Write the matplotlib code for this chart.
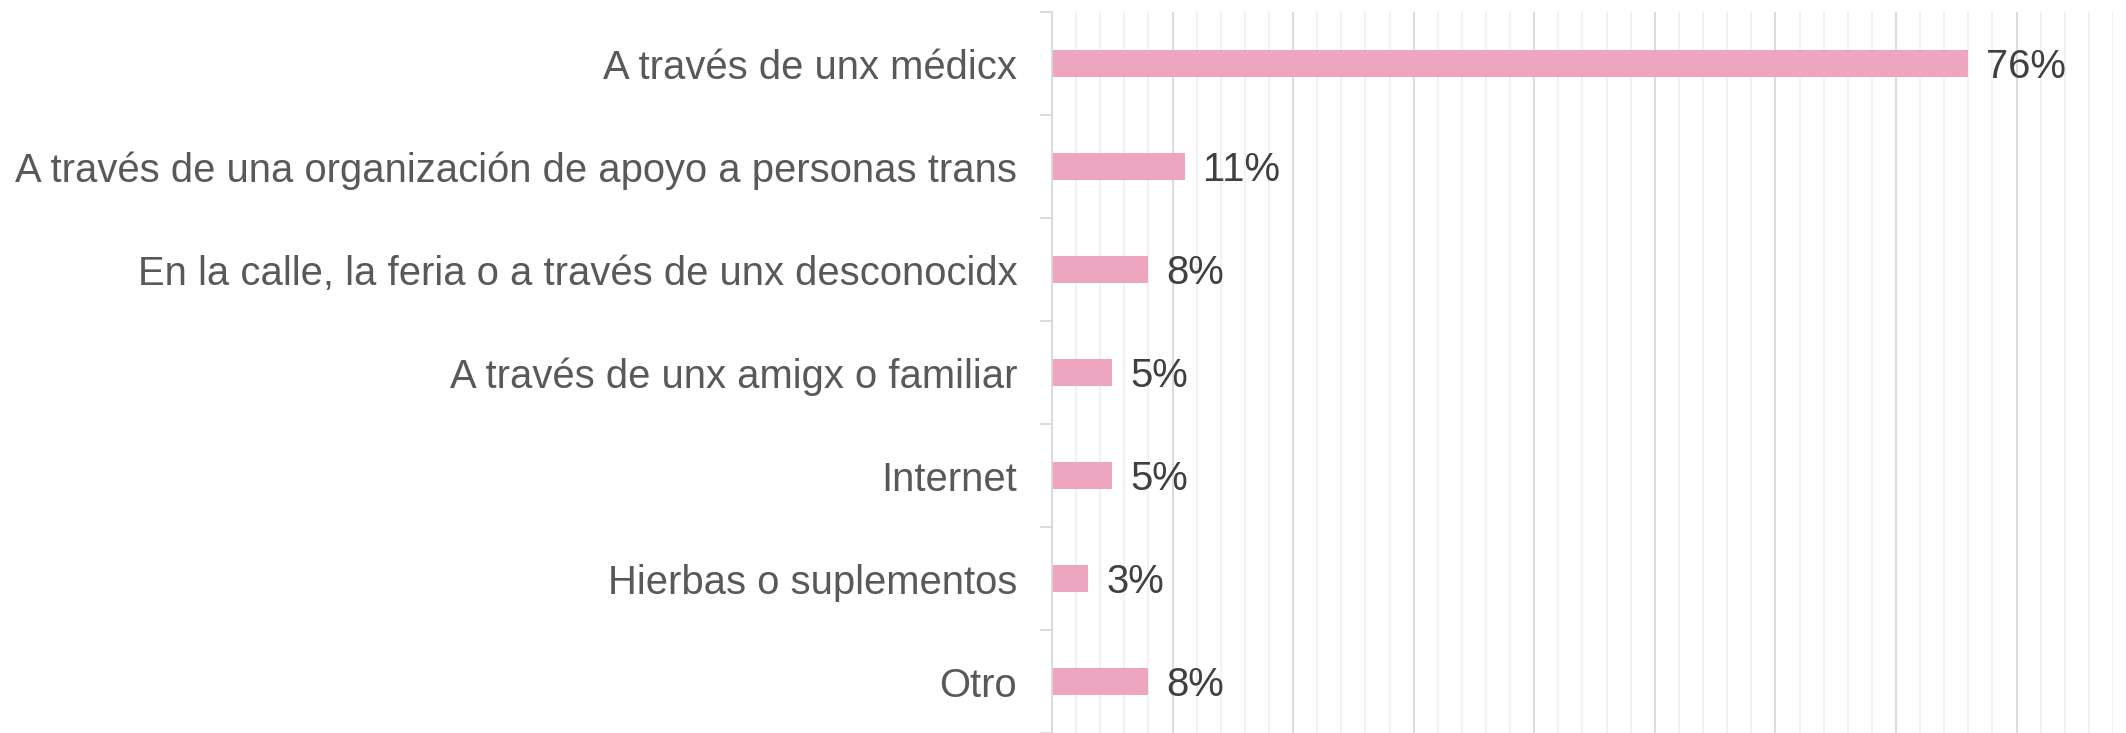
import matplotlib.pyplot as plt
import numpy as np
from matplotlib.ticker import MultipleLocator, FixedLocator

plt.rcParams['font.family'] = ['Liberation Sans', 'DejaVu Sans']

categories = [
    'A través de unx médicx',
    'A través de una organización de apoyo a personas trans',
    'En la calle, la feria o a través de unx desconocidx',
    'A través de unx amigx o familiar',
    'Internet',
    'Hierbas o suplementos',
    'Otro',
]
values = [76, 11, 8, 5, 5, 3, 8]

bar_color = '#EEA5BF'
grid_major = '#D9D9D9'
grid_minor = '#F0F0F0'
fsize = 28.8

fig = plt.figure(figsize=(21.26, 7.33), dpi=100)
ax = fig.add_axes([0.4948, 0.0, 0.9939 - 0.4948, 1 - 12 / 733])

y = np.arange(len(categories))
ax.barh(y, values, height=0.27, color=bar_color, zorder=3)

# percentage labels, baseline dropped so the digits sit centred on the bar
for yi, v in zip(y, values):
    ax.annotate(f'{v}%', xy=(v, yi), xytext=(13, -10.6), textcoords='offset points',
                va='baseline', ha='left', fontsize=fsize, color='#404040')

ax.set_xlim(0, 88)
ax.set_ylim(len(categories) - 0.5, -0.5)

# gridlines: major every 10, minor every 2
ax.xaxis.set_major_locator(MultipleLocator(10))
ax.xaxis.set_minor_locator(MultipleLocator(2))
ax.grid(which='major', axis='x', color=grid_major, linewidth=1.3, zorder=0)
ax.grid(which='minor', axis='x', color=grid_minor, linewidth=1.3, zorder=0)
ax.tick_params(axis='x', which='both', length=0, labelbottom=False)

# category labels at centres, tick marks at the boundaries
ax.yaxis.set_major_locator(FixedLocator(np.arange(-0.5, len(categories), 1.0)))
ax.yaxis.set_minor_locator(FixedLocator(y))
ax.yaxis.set_major_formatter(plt.NullFormatter())
ax.set_yticks(y, categories, minor=True)
ax.tick_params(axis='y', which='major', length=9, width=1.3, color=grid_major)
ax.tick_params(axis='y', which='minor', length=0, pad=25, labelsize=fsize,
               labelcolor='#595959')

for side in ['top', 'right', 'bottom']:
    ax.spines[side].set_visible(False)
ax.spines['left'].set_color(grid_major)
ax.spines['left'].set_linewidth(1.3)
ax.spines['left'].set_zorder(4)

fig.savefig('out.png', dpi=100)
